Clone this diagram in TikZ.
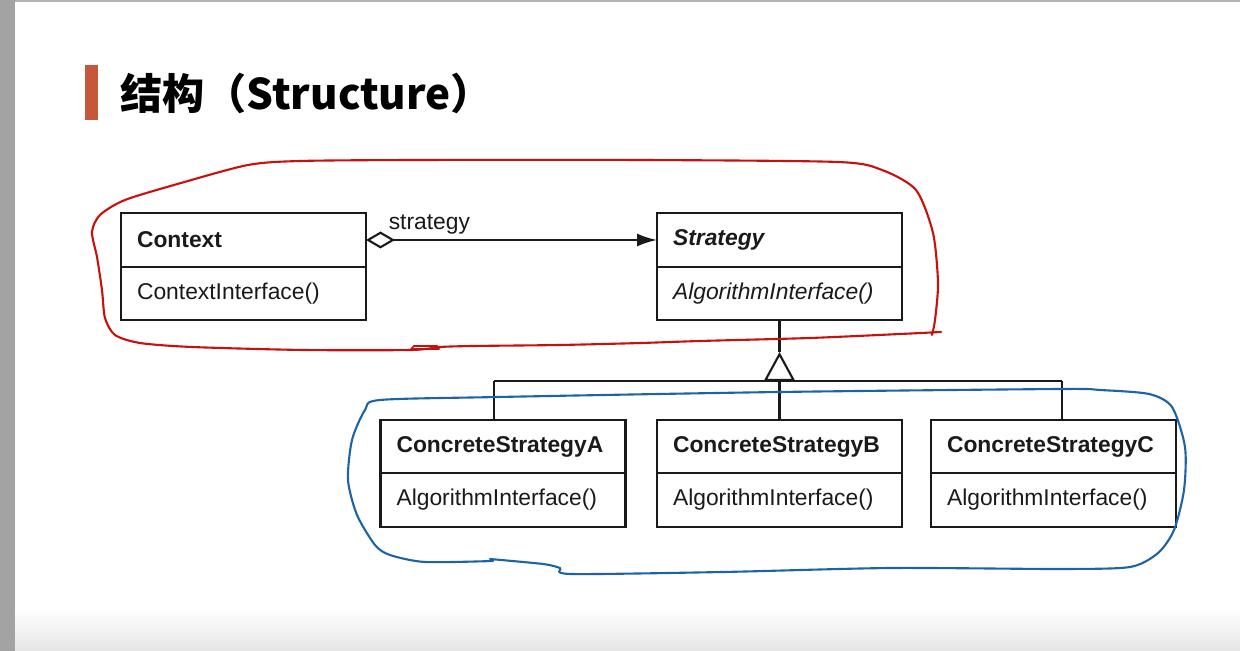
\documentclass[tikz,border=0pt]{standalone}
\usepackage{fontspec}
\setmainfont{Liberation Sans}
\newfontfamily\cjk{Noto Sans CJK SC}
\usepackage{xcolor}
\usetikzlibrary{arrows.meta,positioning,calc}

\definecolor{barorange}{HTML}{C45839}
\definecolor{penred}{HTML}{C8100C}
\definecolor{penblue}{HTML}{1C64A6}
\definecolor{umlink}{HTML}{1A1A1A}

\begin{document}
\begin{tikzpicture}[
 x=0.02cm, y=-0.02cm,
 line width=1.2pt,
 classhead/.style={draw=umlink, line width=1.2pt, outer sep=0pt,
  minimum width=4.9cm, minimum height=1.07cm, text width=4.26cm,
  inner xsep=0.32cm, align=left, text=umlink,
  font=\fontsize{13}{15}\selectfont\bfseries},
 classbody/.style={classhead, font=\fontsize{13}{15}\selectfont},
 link/.style={draw=umlink, line width=1.2pt},
 pen/.style={line width=1.2pt, line cap=round, line join=round}
]
 % slide frame
 \useasboundingbox (0,0) rectangle (1240,651);
 \fill[white] (0,0) rectangle (1240,651);
 \shade[top color=white, bottom color=black!10] (0,608) rectangle (1240,651);
 \fill[black!36] (0,0) rectangle (15,651);
 \fill[black!30] (15,0) rectangle (1240,2);

 % title
 \fill[barorange] (85,65) rectangle (98,120);
 \node[anchor=base west, inner sep=0pt] (title) at (119,110)
  {\cjk\bfseries\fontsize{24}{28}\selectfont 结构（Structure）};

 % upper classes
 \node[classhead] (ctx) at (243.5,240) {Context};
 \node[classbody, below=0pt of ctx] (ctx-op) {ContextInterface()};
 \node[classhead] (strat) at (779.5,240) {\itshape Strategy};
 \node[classbody, below=0pt of strat] (strat-op) {\itshape AlgorithmInterface()};

 % concrete strategies
 \node[classhead] (csa) at (503,446.5) {ConcreteStrategyA};
 \node[classbody, below=0pt of csa] (csa-op) {AlgorithmInterface()};
 \node[classhead] (csb) at (779.5,446.5) {ConcreteStrategyB};
 \node[classbody, below=0pt of csb] (csb-op) {AlgorithmInterface()};
 \node[classhead] (csc) at (1053.5,446.5) {ConcreteStrategyC};
 \node[classbody, below=0pt of csc] (csc-op) {AlgorithmInterface()};

 % aggregation Context -> Strategy
 \draw[link, {Diamond[open, fill=white, length=0.58cm, width=0.34cm]}-{Latex[length=0.4cm, width=0.26cm]}]
  (ctx.east) -- node[pos=0.218, anchor=base, yshift=0.2cm, text=umlink,
  font=\fontsize{13}{15}\selectfont] {strategy} (strat.west);

 % inheritance tree
 \coordinate (apex) at (779.5,352);
 \coordinate (hub) at (779.5,381);
 \coordinate (jA) at (494,381);
 \coordinate (jC) at (1062,381);
 \draw[link] (strat-op.south) -- (apex);
 \draw[link, -{Triangle[open, fill=white, length=0.58cm, width=0.62cm]}] (hub) -- (apex);
 \draw[link] (jA) -- (jC);
 \draw[link] (jA) -- (jA |- csa.north);
 \draw[link] (hub) -- (csb.north);
 \draw[link] (jC) -- (jC |- csc.north);

 % hand drawn marks
 \draw[pen, penred] plot[smooth, tension=0.45] coordinates {
  (941,332) (900,334) (810,338) (700,341) (641,343) (560,345) (473,346)
  (440,347) (411,350) (304,350) (192,347) (140,343) (115,335) (105,318)
  (102,290) (97,257) (92,232) (100,215) (125,200) (181,183) (248,165)
  (300,161) (417,160) (641,160) (838,162) (882,170) (916,190) (933,233)
  (938,283) (935,320) (932,335)};
 \draw[pen, penred, line width=1pt] (411,349) -- (414,346) -- (437,346) -- (439,349) -- cycle;
 \draw[pen, penblue] plot[smooth, tension=0.45] coordinates {
  (493,561) (425,562) (390,555) (375,545) (357,515) (348,480) (352,440)
  (365,410) (380,400) (498,397) (779,392) (1060,389) (1100,390) (1149,394)
  (1172,407) (1185,447) (1184,490) (1174,530) (1158,553) (1130,567)
  (1060,569) (891,568) (723,572) (571,574) (560,568) (543,564) (490,559)};
\end{tikzpicture}
\end{document}
